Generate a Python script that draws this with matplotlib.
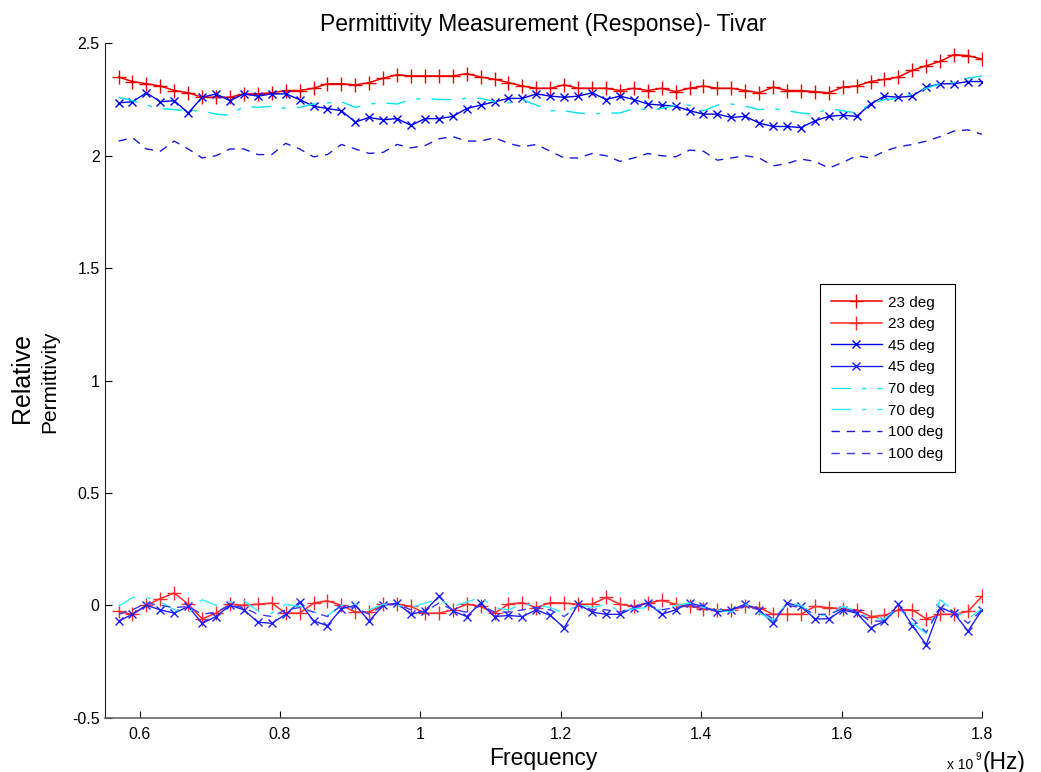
import numpy as np
import matplotlib
matplotlib.use("Agg")
import matplotlib.pyplot as plt
from matplotlib.ticker import FuncFormatter

plt.rcParams["font.family"] = ["Liberation Sans", "DejaVu Sans"]

# frequency sweep, in units of 1e9 Hz
freq = np.linspace(0.57, 1.80, 63)

# real part (upper group)
eps_23_re = [2.35, 2.33, 2.32, 2.31, 2.29, 2.28, 2.26, 2.26, 2.26, 2.275,
             2.275, 2.28, 2.29, 2.29, 2.30, 2.32, 2.32, 2.315, 2.325, 2.345,
             2.36, 2.355, 2.355, 2.355, 2.355, 2.365, 2.35, 2.34, 2.325, 2.31,
             2.30, 2.30, 2.315, 2.30, 2.30, 2.30, 2.29, 2.30, 2.29, 2.30,
             2.285, 2.30, 2.31, 2.30, 2.30, 2.29, 2.28, 2.305, 2.29, 2.29,
             2.285, 2.28, 2.305, 2.31, 2.33, 2.34, 2.35, 2.38, 2.40, 2.42,
             2.45, 2.445, 2.43]
eps_45_re = [2.235, 2.24, 2.28, 2.24, 2.245, 2.19, 2.26, 2.275, 2.245, 2.275,
             2.265, 2.275, 2.275, 2.25, 2.22, 2.21, 2.20, 2.15, 2.17, 2.16,
             2.165, 2.135, 2.165, 2.165, 2.175, 2.21, 2.225, 2.24, 2.255, 2.255,
             2.275, 2.265, 2.26, 2.265, 2.28, 2.25, 2.265, 2.25, 2.23, 2.225,
             2.22, 2.20, 2.185, 2.185, 2.17, 2.175, 2.145, 2.13, 2.13, 2.125,
             2.155, 2.175, 2.18, 2.175, 2.23, 2.265, 2.26, 2.265, 2.305, 2.32,
             2.32, 2.33, 2.33]
eps_70_re = [2.26, 2.245, 2.225, 2.21, 2.205, 2.20, 2.20, 2.185, 2.18, 2.22,
             2.215, 2.22, 2.21, 2.215, 2.23, 2.235, 2.24, 2.215, 2.23, 2.235,
             2.23, 2.25, 2.255, 2.25, 2.25, 2.255, 2.255, 2.24, 2.235, 2.25,
             2.225, 2.20, 2.20, 2.19, 2.185, 2.19, 2.19, 2.21, 2.205, 2.21,
             2.225, 2.225, 2.20, 2.225, 2.23, 2.22, 2.205, 2.21, 2.20, 2.19,
             2.185, 2.21, 2.20, 2.19, 2.23, 2.25, 2.255, 2.275, 2.30, 2.32,
             2.325, 2.345, 2.355]
eps_100_re = [2.065, 2.08, 2.03, 2.02, 2.065, 2.03, 1.99, 2.00, 2.03, 2.03,
              2.005, 2.005, 2.055, 2.03, 1.995, 2.005, 2.05, 2.03, 2.01, 2.015,
              2.05, 2.035, 2.045, 2.075, 2.085, 2.065, 2.065, 2.08, 2.055, 2.04,
              2.05, 2.02, 1.99, 1.99, 2.01, 2.00, 1.975, 1.99, 2.01, 2.00,
              1.995, 2.025, 2.02, 1.98, 1.99, 2.00, 1.99, 1.955, 1.965, 1.985,
              1.975, 1.945, 1.97, 2.00, 1.99, 2.02, 2.04, 2.05, 2.065, 2.085,
              2.11, 2.115, 2.095]

# imaginary part (lower group)
eps_23_im = [-0.027, -0.04, 0.00, 0.03, 0.055, 0.005, -0.06, -0.035, 0.005, 0.00,
             0.005, 0.01, -0.035, -0.035, 0.01, 0.02, 0.00, -0.03, -0.03, 0.005,
             0.005, -0.005, -0.035, -0.035, -0.02, 0.005, -0.005, -0.035, 0.005, 0.012,
             -0.01, 0.012, 0.01, 0.005, 0.005, 0.035, 0.005, -0.005, 0.01, 0.022,
             0.005, -0.005, -0.015, -0.02, -0.02, -0.005, -0.01, -0.04, -0.04, -0.04,
             -0.005, -0.01, -0.015, -0.02, -0.05, -0.045, -0.02, -0.02, -0.06, -0.04,
             -0.04, -0.027, 0.04]
eps_45_im = [-0.07, -0.04, 0.00, -0.02, -0.035, -0.005, -0.08, -0.05, 0.00, -0.02,
             -0.075, -0.08, -0.04, 0.015, -0.07, -0.09, -0.015, 0.00, -0.07, 0.00,
             0.01, -0.04, -0.025, 0.04, -0.025, -0.05, 0.01, -0.05, -0.045, -0.05,
             -0.02, -0.045, -0.10, 0.005, -0.03, -0.04, -0.04, -0.01, 0.012, -0.04,
             -0.02, 0.01, -0.005, -0.03, -0.02, 0.005, -0.02, -0.08, 0.01, -0.005,
             -0.06, -0.06, -0.02, -0.035, -0.10, -0.07, 0.005, -0.09, -0.175, -0.01,
             -0.035, -0.115, -0.02]
eps_70_im = [-0.005, 0.035, 0.035, 0.015, -0.02, -0.035, 0.025, 0.00, 0.015, 0.02,
             -0.025, -0.035, 0.005, -0.005, -0.03, -0.045, 0.00, 0.005, -0.02, 0.005,
             0.00, -0.01, 0.01, 0.025, -0.005, 0.015, 0.035, -0.01, -0.02, 0.005,
             0.00, -0.01, -0.035, 0.005, -0.01, 0.005, -0.025, -0.015, -0.01, -0.02,
             0.00, 0.01, -0.01, -0.02, -0.03, 0.005, -0.035, -0.065, 0.01, 0.00,
             -0.045, -0.045, -0.005, -0.025, -0.06, -0.06, -0.01, -0.08, -0.125, 0.025,
             -0.025, -0.06, -0.015]
eps_100_im = [-0.04, -0.02, 0.01, 0.00, -0.01, -0.005, -0.04, -0.03, 0.00, -0.01,
              -0.04, -0.05, -0.02, -0.01, -0.03, -0.05, 0.00, -0.01, -0.04, 0.00,
              0.005, -0.02, -0.03, 0.01, -0.02, -0.03, 0.00, -0.03, -0.03, -0.02,
              -0.01, -0.02, -0.05, 0.00, -0.02, -0.02, -0.03, -0.01, 0.00, -0.02,
              -0.01, 0.00, -0.01, -0.025, -0.02, 0.00, -0.02, -0.06, 0.00, -0.01,
              -0.04, -0.04, -0.015, -0.03, -0.07, -0.07, -0.01, -0.06, -0.12, -0.01,
              -0.03, -0.08, -0.02]

labels = ["23 deg", "23 deg", "45 deg", "45 deg",
          "70 deg", "70 deg", "100 deg", "100 deg"]

fig = plt.figure(figsize=(10.41, 7.72), dpi=100)
ax = fig.add_axes([0.1004, 0.0703, 0.8429, 0.8736])

series = [eps_23_re, eps_23_im, eps_45_re, eps_45_im,
          eps_70_re, eps_70_im, eps_100_re, eps_100_im]
styles = [
    dict(color="#ee0000", marker="+", ms=10, lw=1.1),
    dict(color="#ff2a2a", marker="+", ms=10, lw=1.1),
    dict(color="#0000ee", marker="x", ms=5.5, lw=1.0),
    dict(color="#2020ff", marker="x", ms=5.5, lw=1.0),
    dict(color="#00e5ee", lw=1.0, dashes=(14, 8, 3, 8)),
    dict(color="#30eeff", lw=1.0, dashes=(14, 8, 3, 8)),
    dict(color="#1a1ae0", lw=1.0, dashes=(6, 5)),
    dict(color="#3a3aff", lw=1.0, dashes=(6, 5)),
]
for vals, lab, st in zip(series, labels, styles):
    ax.plot(freq, vals, label=lab, **st)

ax.set_xlim(0.55, 1.8)
ax.set_ylim(-0.5, 2.5)
ax.set_xticks([0.6, 0.8, 1.0, 1.2, 1.4, 1.6, 1.8])
ax.set_yticks([-0.5, 0, 0.5, 1, 1.5, 2, 2.5])
fmt = FuncFormatter(lambda v, p: "%g" % round(v, 2))
ax.xaxis.set_major_formatter(fmt)
ax.yaxis.set_major_formatter(fmt)
ax.tick_params(direction="in", length=5, labelsize=11.5, colors="black")
ax.tick_params(axis="x", pad=7)

ax.spines["top"].set_visible(False)
ax.spines["right"].set_visible(False)
ax.spines["left"].set_color("#222222")
ax.spines["bottom"].set_color("#666666")
ax.spines["bottom"].set_linewidth(1.2)

ax.set_title("Permittivity Measurement (Response)- Tivar", fontsize=16.5, pad=9)
ax.set_xlabel("Frequency", fontsize=16.5, labelpad=3)

fig.text(22 / 1041, 1 - 378 / 772, "Relative", rotation=90, fontsize=18,
         ha="center", va="center")
fig.text(50 / 1041, 1 - 382 / 772, "Permittivity", rotation=90, fontsize=15,
         ha="center", va="center")

fig.text(947 / 1041, 1 - 765 / 772, "x 10", fontsize=10, va="center")
fig.text(975 / 1041, 1 - 757 / 772, "9", fontsize=7, va="center")
fig.text(983 / 1041, 1 - 762 / 772, "(Hz)", fontsize=16.5, va="center")

leg = ax.legend(loc="upper left", bbox_to_anchor=(0.815, 0.643),
                borderaxespad=0, fontsize=11, handlelength=3.3,
                handletextpad=0.45, labelspacing=0.5, borderpad=0.75,
                fancybox=False, framealpha=1, edgecolor="black")
leg.get_frame().set_linewidth(0.8)

fig.savefig("out.png", dpi=100)
